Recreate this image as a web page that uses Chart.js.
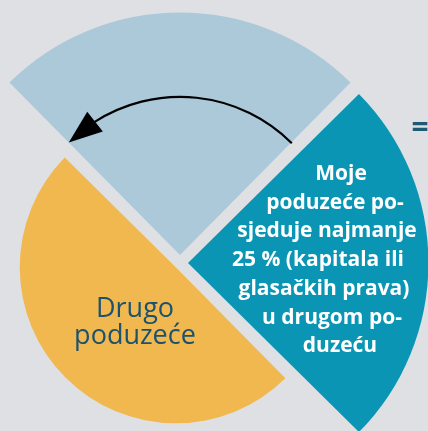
<!DOCTYPE html>
<html><head><meta charset="utf-8">
<script src="https://cdn.jsdelivr.net/npm/chart.js@4.4.0/dist/chart.umd.min.js"></script>
<style>
html,body{margin:0;padding:0;width:428px;height:431px;overflow:hidden;background:#dfe0e4;}
#wrap{position:absolute;left:-80px;top:3px;width:520px;height:520px;}
</style></head><body>
<div id="wrap"><canvas id="c"></canvas></div>
<script>
// ---- data ----
const categories = ['Moje poduzeće', 'Udio u drugom poduzeću', 'Drugo poduzeće'];
const sectorAngles = [90, 90, 180];          // angular size of each sector (degrees)
const sectorSizes = [90.2, 89.4, 57.7];      // radial size (0-100)
const sectorColors = ['#abc9d9', '#0b95b4', '#f0b84f'];
const tealLines = ['Moje', 'poduzeće po-', 'sjeduje najmanje', '25 % (kapitala ili', 'glasačkih prava)', 'u drugom po-', 'duzeću'];
const orangeLines = ['Drugo', 'poduzeće'];
const signText = '=';

// ---- layout (style only) ----
const sectorOffsets = [32, 32, 24];
const tealX = [161, 155, 147, 138, 144, 152, 160];
const tealY0 = -83, tealLH = 28.7;
const orangeX = -45, orangeY0 = 54, orangeLH = 27;

const overlay = {
  id: 'overlay',
  afterDatasetsDraw(chart) {
    const ctx = chart.ctx;
    const scale = chart.scales.r;
    const cx = scale.xCenter, cy = scale.yCenter;
    const blue = chart.getDatasetMeta(0).data[0];
    const mid = (blue.startAngle + blue.endAngle) / 2;
    const off = blue.options.offset / 4;
    const bx = blue.x + Math.cos(mid) * off, by = blue.y + Math.sin(mid) * off;
    const r = (blue.outerRadius + off) * 0.652;
    const deg = Math.PI / 180;
    const aLineEnd = blue.startAngle + 12 * deg;
    const aBase = blue.startAngle + 12.5 * deg;
    const aTip = blue.startAngle + 0.3 * deg;
    ctx.save();
    ctx.strokeStyle = '#000';
    ctx.lineWidth = 2.2;
    ctx.beginPath();
    ctx.arc(bx, by, r, blue.endAngle, aLineEnd, true);
    ctx.stroke();
    const tip = [bx + Math.cos(aTip) * r, by + Math.sin(aTip) * r];
    const base = [bx + Math.cos(aBase) * r, by + Math.sin(aBase) * r];
    let dx = tip[0] - base[0], dy = tip[1] - base[1];
    const len = Math.hypot(dx, dy); dx /= len; dy /= len;
    const hw = 12.5;
    ctx.fillStyle = '#000';
    ctx.beginPath();
    ctx.moveTo(tip[0], tip[1]);
    ctx.lineTo(base[0] - dy * hw, base[1] + dx * hw);
    ctx.lineTo(base[0] + dy * hw, base[1] - dx * hw);
    ctx.closePath();
    ctx.fill();

    ctx.textAlign = 'center';
    ctx.textBaseline = 'alphabetic';
    ctx.fillStyle = '#ffffff';
    ctx.font = 'bold 21px "Open Sans"';
    tealLines.forEach((t, i) => ctx.fillText(t, cx + tealX[i], cy + tealY0 + i * tealLH));

    ctx.fillStyle = '#1a5270';
    ctx.font = '27px "Open Sans"';
    orangeLines.forEach((t, i) => ctx.fillText(t, cx + orangeX, cy + orangeY0 + i * orangeLH));

    ctx.textAlign = 'left';
    ctx.fillStyle = '#1d5a74';
    ctx.font = 'bold 30px "Open Sans"';
    ctx.fillText(signText, cx + 231.5, cy - 126);
    ctx.restore();
  }
};

new Chart(document.getElementById('c'), {
  type: 'polarArea',
  data: {
    labels: categories,
    datasets: [{
      data: sectorSizes,
      backgroundColor: sectorColors,
      borderWidth: 0,
      clip: false,
      angle: (c) => sectorAngles[c.dataIndex],
      offset: (c) => sectorOffsets[c.dataIndex],
      hoverOffset: (c) => sectorOffsets[c.dataIndex]
    }]
  },
  options: {
    responsive: true,
    maintainAspectRatio: false,
    animation: false,
    events: [],
    layout: { padding: 0 },
    plugins: { legend: { display: false }, tooltip: { enabled: false } },
    scales: {
      r: { display: false, min: 0, max: 100, startAngle: -45 }
    }
  },
  plugins: [overlay]
});
</script>
</body></html>
